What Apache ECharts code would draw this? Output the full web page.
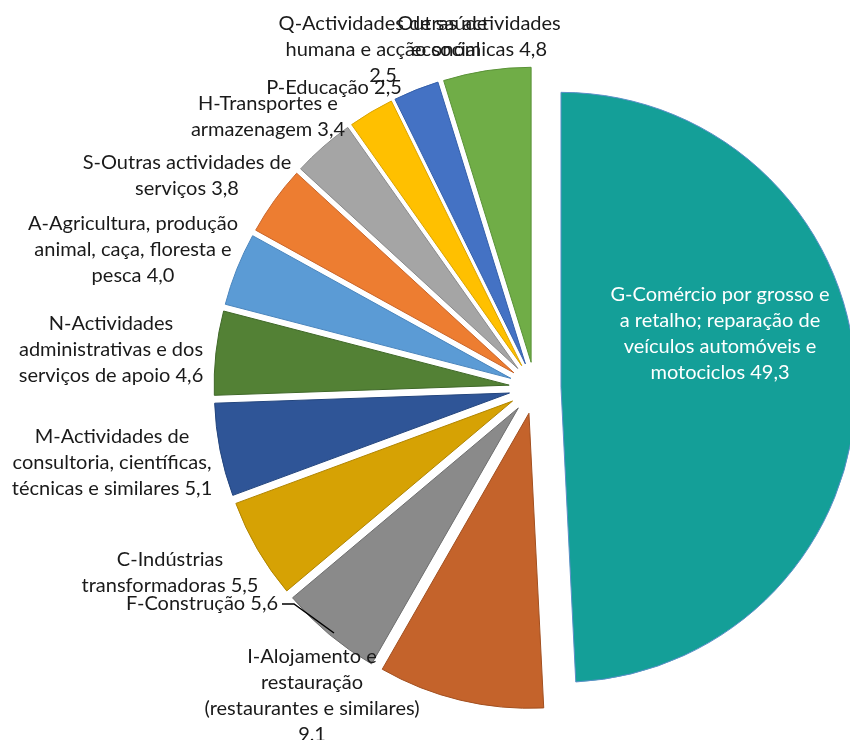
<!DOCTYPE html>
<html>
<head>
<meta charset="utf-8">
<script src="https://cdn.jsdelivr.net/npm/echarts@6/dist/echarts.min.js"></script>
<style>
html,body{margin:0;padding:0;background:#fff;}
#chart{width:850px;height:740px;}
</style>
</head>
<body>
<div id="chart"></div>
<script>
// ---- data ----
const categories = [
  "G-Comércio por grosso e\na retalho; reparação de\nveículos automóveis e\nmotociclos",
  "I-Alojamento e\nrestauração\n(restaurantes e similares)\n",
  "F-Construção",
  "C-Indústrias\ntransformadoras",
  "M-Actividades de\nconsultoria, científicas,\ntécnicas e similares",
  "N-Actividades\nadministrativas e dos\nserviços de apoio",
  "A-Agricultura, produção\nanimal, caça, floresta e\npesca",
  "S-Outras actividades de\nserviços",
  "H-Transportes e\narmazenagem",
  "P-Educação",
  "Q-Actividades de saúde\nhumana e acção social\n",
  "Outras actividades\neconómicas"
];
const values = [49.3, 9.1, 5.6, 5.5, 5.1, 4.6, 4.0, 3.8, 3.4, 2.5, 2.5, 4.8];

// ---- styles ----
const colors = ['#149F98','#C4632B','#8A8A8A','#D6A204','#2F5597','#538135','#5B9BD5','#ED7D31','#A5A5A5','#FFC000','#4472C4','#70AD47'];
const borders = ['#5B8FC7','#A24F1F','#6E6E6E','#B08400','#23457D','#3F6828','#4A85BD','#C8652A','#8A8A8A','#D9A300','#3560AA','#5A9237'];
// label block centres (layout only)
const labelCenters = [
  [720, 334], [312, 696], [202, 604], [170, 573], [112, 463], [111, 350],
  [133, 250], [187, 176], [268, 117], [334, 88], [383, 50], [479, 37]
];
// leader line for the F label (layout only)
const fLeader = [[282, 604], [294, 604], [334, 633]];

const fmt = v => v.toFixed(1).replace('.', ',');
const pieCenter = [535, 388];
const pieRadius = 295;

const sliceData = categories.map((c, i) => ({
  name: c,
  value: values[i],
  selected: true,
  itemStyle: { color: colors[i], borderColor: borders[i], borderWidth: 1 }
}));

const labelData = categories.map((c, i) => ({
  name: c,
  value: values[i],
  itemStyle: { color: 'rgba(0,0,0,0)', borderWidth: 0 },
  label: i === 0 ? { color: '#ffffff' } : {},
  labelLine: { show: i === 2 }
}));

const chart = echarts.init(document.getElementById('chart'), null, { renderer: 'canvas' });
chart.setOption({
  animation: false,
  series: [{
    type: 'pie',
    center: pieCenter,
    radius: [0, pieRadius],
    startAngle: 90,
    clockwise: true,
    selectedMode: 'multiple',
    selectedOffset: 26,
    silent: true,
    emphasis: { disabled: true },
    label: { show: false },
    labelLine: { show: false },
    data: sliceData
  }, {
    type: 'pie',
    center: pieCenter,
    radius: [0, pieRadius],
    startAngle: 90,
    clockwise: true,
    silent: true,
    z: 3,
    avoidLabelOverlap: false,
    emphasis: { disabled: true },
    label: {
      show: true,
      position: 'outside',
      fontFamily: 'Lato',
      fontSize: 20,
      lineHeight: 26,
      color: '#1a1a1a',
      formatter: p => p.name + (p.name.endsWith('\n') ? '' : ' ') + fmt(p.value)
    },
    labelLine: { show: false, lineStyle: { color: '#000', width: 1.5 }, length: 10, length2: 10 },
    labelLayout: p => {
      const c = labelCenters[p.dataIndex];
      const out = { x: c[0], y: c[1], align: 'center', verticalAlign: 'middle' };
      if (p.dataIndex === 2) out.labelLinePoints = fLeader;
      return out;
    },
    data: labelData
  }]
});
</script>
</body>
</html>
